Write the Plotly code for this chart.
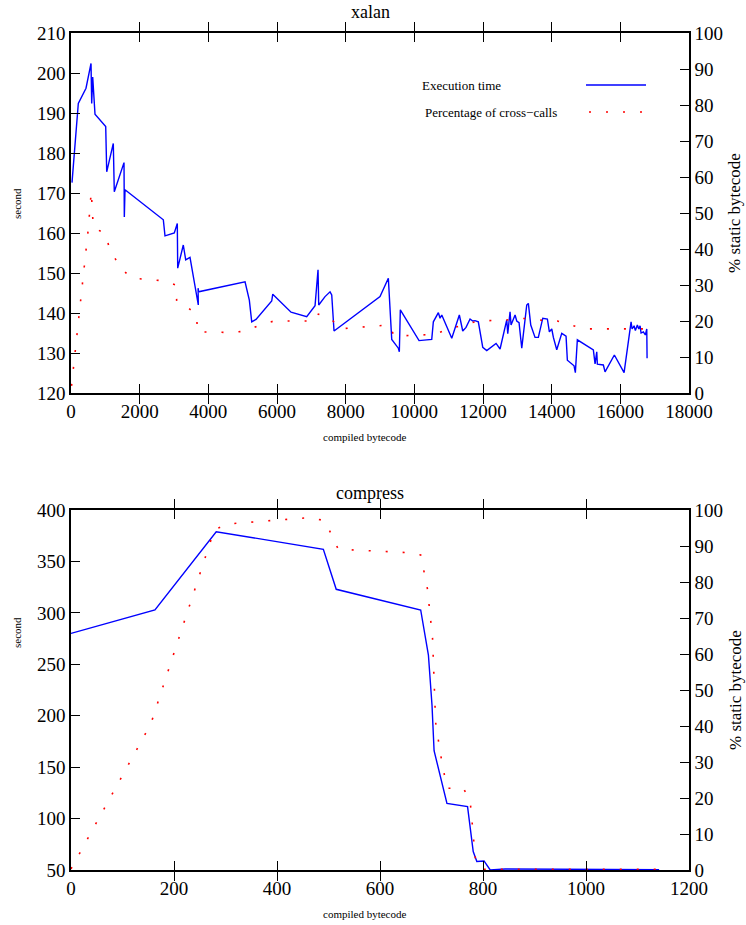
import plotly.graph_objects as go

# ---------------- data: xalan ----------------
xalan_time_x = [29, 213, 437, 583, 603, 632, 699, 1011, 1040, 1232, 1261, 1544, 1553, 1573,
                2689, 2738, 3009, 3096, 3108, 3271, 3341, 3466, 3708, 3702, 3715, 5069, 5194,
                5264, 5389, 5846, 5876, 6409, 6866, 7108, 7195, 7215, 7399, 7545, 7594, 7661,
                9001, 9243, 9342, 9534, 9563, 9592, 10137, 10507, 10554, 10700, 10749, 10799,
                11090, 11311, 11410, 11506, 11623, 11701, 11768, 11864, 11993, 12109, 12380,
                12497, 12643, 12692, 12721, 12788, 12817, 12934, 12983, 13050, 13129, 13274,
                13321, 13391, 13516, 13612, 13741, 13875, 13933, 14003, 14050, 14148, 14294,
                14419, 14457, 14652, 14690, 14748, 15214, 15264, 15313, 15331, 15506, 15555,
                15826, 16042, 16109, 16313, 16342, 16400, 16438, 16496, 16537, 16575, 16604,
                16671, 16729, 16770, 16779]
xalan_time_y = [172.6, 192.4, 196.2, 202.4, 192.4, 199, 189.7, 186.6, 175.3, 182.4, 170.3, 177.6,
                164, 170.8, 163.3, 159.3, 160, 162.4, 151.2, 157, 153.3, 153.9, 142, 146.2, 145.3,
                147.8, 143.2, 137.8, 138.4, 143, 144.7, 140.2, 139.1, 141.8, 150.8, 142, 144.1,
                145.3, 144.5, 135.5, 144.1, 148.7, 133.4, 131.2, 130.3, 140.8, 133.1, 133.4,
                137.8, 140.1, 138.7, 139.5, 133.7, 139.5, 135.5, 136.4, 138.5, 138, 138.1, 137.8,
                131.4, 130.6, 132.4, 131, 136.6, 138.3, 134.8, 140.3, 137, 139.5, 138, 137.6,
                131.2, 142, 142.4, 137, 133.9, 133.9, 138.7, 138.5, 135.3, 136, 133.9, 130.8,
                134.9, 134.2, 128.2, 126.8, 125.1, 133.3, 130.8, 127.3, 130.3, 127.2, 127, 125.3,
                129.5, 126.2, 125.1, 137.8, 136, 136.8, 135.6, 137, 136, 136.8, 135, 135.3, 134.5,
                136, 128.7]

xalan_pct_x = [15, 504, 590, 650, 990, 1116, 1311, 1506, 1768, 2671, 3059, 3079, 3399, 3662,
               3679, 4650, 5098, 5506, 5913, 7100, 7204, 7574, 7816, 9263, 9418, 10603, 10973,
               11410, 11864, 12692, 13059, 13391, 13837, 14166, 14556, 14944, 16800]
xalan_pct_y = [2, 45.6, 56, 45.9, 44.4, 40.4, 36.9, 34.2, 31.9, 31.2, 30, 25.4, 23.8, 21.7,
               17, 16.8, 17.2, 18.9, 20, 20, 21.9, 20.7, 17.8, 18.9, 15.8, 16.3, 17.7,
               18.9, 20, 20.3, 20.7, 20.7, 20, 20, 18.9, 17.8, 17.8]

# ---------------- data: compress ----------------
compress_time_x = [0, 163, 282, 490, 515, 679, 694, 701, 705, 730, 770, 781, 788, 802, 814, 843, 1142]
compress_time_y = [280, 302.8, 378.9, 361.8, 322.9, 302.8, 259, 210, 166, 114.8, 111.6, 67.9,
                   58.2, 58.8, 50, 51, 50.3]

compress_pct_x = [0, 155, 278, 302, 465, 493, 519, 650, 679, 692, 702, 706, 708, 718, 730,
                  762, 775, 778, 786, 800, 1142]
compress_pct_y = [0.3, 40.6, 94.4, 96.1, 97.9, 97, 89.1, 88.2, 87.5, 78.2, 64.4, 50.5, 41,
                  31.8, 22.7, 22.7, 19.2, 14.6, 1.9, 0.2, 0.2]

titles = ["xalan", "compress"]
legend_labels = ["Execution time", "Percentage of cross\u2212calls"]

# ---------------- figure ----------------
W, H = 746, 925
BLUE = "#0000ff"
RED = "#ff0000"
FONT = "Liberation Serif"
DOT = "2px,15px"

fig = go.Figure()
fig.add_trace(go.Scatter(x=xalan_time_x, y=xalan_time_y, mode="lines",
                         line=dict(color=BLUE, width=1.4), xaxis="x", yaxis="y", showlegend=False))
fig.add_trace(go.Scatter(x=xalan_pct_x, y=xalan_pct_y, mode="lines",
                         line=dict(color=RED, width=1.6, dash=DOT), xaxis="x", yaxis="y2", showlegend=False))
fig.add_trace(go.Scatter(x=compress_time_x, y=compress_time_y, mode="lines",
                         line=dict(color=BLUE, width=1.4), xaxis="x2", yaxis="y3", showlegend=False))
fig.add_trace(go.Scatter(x=compress_pct_x, y=compress_pct_y, mode="lines",
                         line=dict(color=RED, width=1.6, dash=DOT), xaxis="x2", yaxis="y4", showlegend=False))

def px_x(p):
    return p / W

def px_y(p):
    return 1 - p / H

xdom = [px_x(71), px_x(689)]
top_dom = [px_y(393), px_y(33)]
bot_dom = [px_y(870), px_y(510)]

tickfont = dict(family=FONT, size=19, color="black")
common = dict(showgrid=False, zeroline=False, showline=True, linecolor="black", linewidth=1.5,
              ticks="inside", ticklen=9, tickwidth=1.3, tickcolor="black", tickfont=tickfont,
              automargin=False, tickformat="d")

fig.update_layout(
    width=W, height=H, margin=dict(l=0, r=0, t=0, b=0, autoexpand=False),
    paper_bgcolor="white", plot_bgcolor="white", showlegend=False,
    xaxis=dict(domain=xdom, anchor="y", range=[0, 18000], dtick=2000, tick0=0, mirror="allticks", **common),
    yaxis=dict(domain=top_dom, anchor="x", range=[120, 210], dtick=10, tick0=120, **common),
    yaxis2=dict(overlaying="y", side="right", anchor="x", range=[0, 100], dtick=10, tick0=0, **common),
    xaxis2=dict(domain=xdom, anchor="y3", range=[0, 1200], dtick=200, tick0=0, mirror="allticks", **common),
    yaxis3=dict(domain=bot_dom, anchor="x2", range=[50, 400], dtick=50, tick0=50, **common),
    yaxis4=dict(overlaying="y3", side="right", anchor="x2", range=[0, 100], dtick=10, tick0=0, **common),
)

ann = []
def add_text(text, x, y, size, angle=0, xanchor="center"):
    ann.append(dict(text=text, x=px_x(x), y=px_y(y), xref="paper", yref="paper",
                    showarrow=False, xanchor=xanchor, yanchor="middle", textangle=angle,
                    font=dict(family=FONT, size=size, color="black")))

# titles
add_text(titles[0], 370, 12, 18)
add_text(titles[1], 370, 493, 18)
# axis titles
add_text("second", 17, 204, 11, angle=-90)
add_text("second", 17, 633, 11, angle=-90)
add_text("compiled bytecode", 365, 437, 11)
add_text("compiled bytecode", 365, 914, 11)
add_text("% static bytecode", 735, 213, 17, angle=-90)
add_text("% static bytecode", 735, 690, 17, angle=-90)
# legend
add_text(legend_labels[0], 420, 86, 13, xanchor="left")
add_text(legend_labels[1], 423, 113, 13, xanchor="left")
fig.update_layout(annotations=ann)

fig.update_layout(shapes=[
    dict(type="line", xref="paper", yref="paper", x0=px_x(586), x1=px_x(646), y0=px_y(85), y1=px_y(85),
         line=dict(color=BLUE, width=1.4)),
    dict(type="line", xref="paper", yref="paper", x0=px_x(589), x1=px_x(646), y0=px_y(112), y1=px_y(112),
         line=dict(color=RED, width=1.6, dash=DOT)),
])

fig.write_html("out.html")
